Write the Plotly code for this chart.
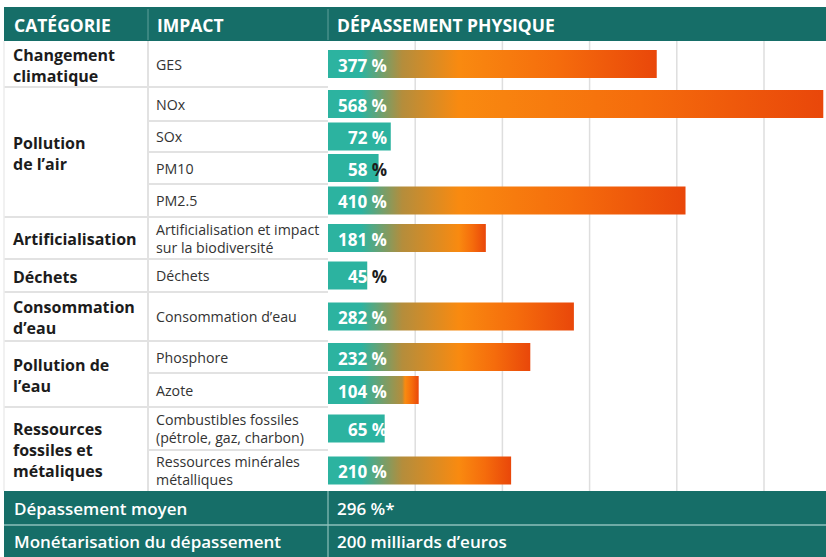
import plotly.graph_objects as go

# ---------------- data ----------------
header_labels = ["CATÉGORIE", "IMPACT", "DÉPASSEMENT PHYSIQUE"]
categories = [
    "Changement<br>climatique",
    "Pollution<br>de l’air",
    "Artificialisation",
    "Déchets",
    "Consommation<br>d’eau",
    "Pollution de<br>l’eau",
    "Ressources<br>fossiles et<br>métaliques",
]
category_of_impact = [0, 1, 1, 1, 1, 2, 3, 4, 5, 5, 6, 6]
impacts = [
    "GES",
    "NOx",
    "SOx",
    "PM10",
    "PM2.5",
    "Artificialisation et impact<br>sur la biodiversité",
    "Déchets",
    "Consommation d’eau",
    "Phosphore",
    "Azote",
    "Combustibles fossiles<br>(pétrole, gaz, charbon)",
    "Ressources minérales<br>métalliques",
]
values = [377, 568, 72, 58, 410, 181, 45, 282, 232, 104, 65, 210]
grid_ticks = [100, 200, 300, 400, 500]
footer_labels = ["Dépassement moyen", "Monétarisation du dépassement"]
footer_values = ["296 %*", "200 milliards d’euros"]

# ---------------- layout constants ----------------
W, H = 826, 557
FONT = "Open Sans"
TEAL_DARK = "#166e68"
TEAL = "#2cb3a0"
OLIVE = "#b48d3c"
ORANGE = "#f98a10"
ORANGE2 = "#f56c0c"
RED = "#e9470a"
GRID = "#dedede"
SEP = "#e2e2e2"
X_LEFT, X_IMP, X_BAR = 4, 148, 328
PX_PER_UNIT = 0.872
row_edges = [41, 87, 121, 152, 184, 217, 259, 292, 341, 373, 407, 450, 491]
HEADER = (7, 41)
FOOTER = (491, 525, 557)
BAR_H = 28
LABEL_RIGHT = 389


def px(x):
    return x / W


fig = go.Figure()

# bars
for i, v in enumerate(values):
    top, bot = row_edges[i], row_edges[i + 1]
    c = (top + bot) / 2
    ys = [c - BAR_H / 2, c - BAR_H / 2, c + BAR_H / 2, c + BAR_H / 2, c - BAR_H / 2]
    xs = [0, v, v, 0, 0]
    kw = {}
    if v < 100:
        kw["fillcolor"] = TEAL
    else:
        p1 = 38 / v
        p2 = 85 / v
        p3 = min(150 / v, 0.85)
        kw["fillgradient"] = dict(
            type="horizontal",
            colorscale=[[0, TEAL], [p1, TEAL], [p2, OLIVE], [p3, ORANGE],
                        [(p3 + 1) / 2, ORANGE2], [1, RED]],
        )
    fig.add_trace(go.Scatter(x=xs, y=ys, fill="toself", mode="none",
                             hoverinfo="skip", showlegend=False, **kw))

shapes = []
# header / footer backgrounds
shapes.append(dict(type="rect", xref="paper", yref="y", x0=px(X_LEFT), x1=1,
                   y0=HEADER[0], y1=HEADER[1], fillcolor=TEAL_DARK, line_width=0, layer="below"))
shapes.append(dict(type="rect", xref="paper", yref="y", x0=px(X_LEFT), x1=1,
                   y0=FOOTER[0], y1=FOOTER[2], fillcolor=TEAL_DARK, line_width=0, layer="below"))
# gridlines
for t in grid_ticks:
    shapes.append(dict(type="line", xref="x", yref="y", x0=t, x1=t,
                       y0=row_edges[0], y1=row_edges[-1], line=dict(color=GRID, width=1.5), layer="below"))
# row separators (impact column)
for e in row_edges[1:-1]:
    shapes.append(dict(type="line", xref="paper", yref="y", x0=px(X_IMP), x1=px(X_BAR),
                       y0=e, y1=e, line=dict(color=SEP, width=2), layer="below"))
# category separators
for i in range(1, len(values)):
    if category_of_impact[i] != category_of_impact[i - 1]:
        e = row_edges[i]
        shapes.append(dict(type="line", xref="paper", yref="y", x0=px(X_LEFT), x1=px(X_IMP),
                           y0=e, y1=e, line=dict(color=SEP, width=2), layer="below"))
# vertical separators
shapes.append(dict(type="line", xref="paper", yref="y", x0=px(X_IMP), x1=px(X_IMP),
                   y0=row_edges[0], y1=row_edges[-1], line=dict(color=SEP, width=2), layer="below"))
shapes.append(dict(type="line", xref="paper", yref="y", x0=px(X_LEFT), x1=px(X_LEFT),
                   y0=row_edges[0], y1=row_edges[-1], line=dict(color="#ececec", width=1.5), layer="below"))
for xv in (X_IMP, X_BAR):
    shapes.append(dict(type="line", xref="paper", yref="y", x0=px(xv), x1=px(xv),
                       y0=HEADER[0] + 2, y1=HEADER[1] - 1, line=dict(color="#5f9f9a", width=1), layer="above"))
shapes.append(dict(type="line", xref="paper", yref="y", x0=px(X_BAR), x1=px(X_BAR),
                   y0=FOOTER[0], y1=FOOTER[2], line=dict(color="#8ec0bb", width=1.2), layer="above"))
shapes.append(dict(type="line", xref="paper", yref="y", x0=px(X_LEFT), x1=1,
                   y0=FOOTER[1], y1=FOOTER[1], line=dict(color="#8ec0bb", width=1.5), layer="above"))

ann = []
# header text
for lab, xv in zip(header_labels, (12, 155, 335)):
    ann.append(dict(xref="paper", yref="y", x=px(xv), y=(HEADER[0] + HEADER[1]) / 2 + 1, text=lab,
                    xanchor="left", yanchor="middle", showarrow=False,
                    font=dict(family=FONT, size=17.5, color="white", weight="bold")))
# categories
for ci, lab in enumerate(categories):
    idx = [i for i, g in enumerate(category_of_impact) if g == ci]
    top, bot = row_edges[idx[0]], row_edges[idx[-1] + 1]
    ann.append(dict(xref="paper", yref="y", x=px(11), y=(top + bot) / 2 + 1, text=lab,
                    xanchor="left", yanchor="middle", align="left", showarrow=False,
                    font=dict(family=FONT, size=16, color="#1c1c1c", weight="bold")))
# impacts and bar labels
for i, (lab, v) in enumerate(zip(impacts, values)):
    c = (row_edges[i] + row_edges[i + 1]) / 2
    ann.append(dict(xref="paper", yref="y", x=px(154), y=c, text=lab,
                    xanchor="left", yanchor="middle", align="left", showarrow=False,
                    font=dict(family=FONT, size=14.2, color="#333333")))
    bar_end = X_BAR + v * PX_PER_UNIT
    if bar_end < LABEL_RIGHT - 8:
        txt = f"{v} <span style='color:#1c1c1c'>%</span>"
    else:
        txt = f"{v} %"
    ann.append(dict(xref="paper", yref="y", x=px(LABEL_RIGHT), y=c + 1, text=txt,
                    xanchor="right", yanchor="middle", showarrow=False,
                    font=dict(family=FONT, size=17, color="white", weight="bold")))
# footer
for k, (lab, val) in enumerate(zip(footer_labels, footer_values)):
    c = (FOOTER[k] + FOOTER[k + 1]) / 2
    ann.append(dict(xref="paper", yref="y", x=px(12), y=c, text=lab,
                    xanchor="left", yanchor="middle", showarrow=False,
                    font=dict(family=FONT, size=17, color="white", weight=600)))
    ann.append(dict(xref="paper", yref="y", x=px(335), y=c, text=val,
                    xanchor="left", yanchor="middle", showarrow=False,
                    font=dict(family=FONT, size=17, color="white", weight=600)))

fig.update_layout(
    width=W, height=H,
    margin=dict(l=0, r=0, t=0, b=0),
    paper_bgcolor="white", plot_bgcolor="white",
    xaxis=dict(domain=[px(X_BAR), 1], range=[0, (W - X_BAR) / PX_PER_UNIT],
               visible=False, fixedrange=True),
    yaxis=dict(domain=[0, 1], range=[H, 0], visible=False, fixedrange=True),
    shapes=shapes, annotations=ann, showlegend=False,
)
fig.write_html(
    "out.html",
    config={"displayModeBar": False},
    post_script="document.body.style.margin='0';document.body.style.overflow='hidden';",
)
